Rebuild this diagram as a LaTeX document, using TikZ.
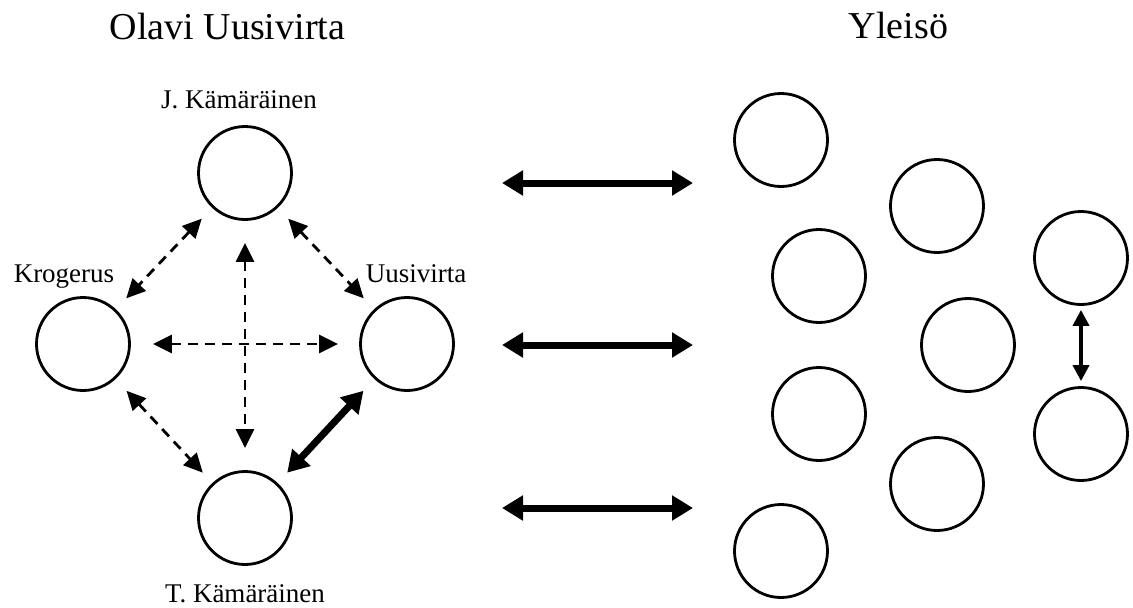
\documentclass[tikz,border=0pt]{standalone}
\usepackage{fontspec}
\setmainfont{Liberation Serif}
\usetikzlibrary{arrows.meta}
\begin{document}
\begin{tikzpicture}[x=1pt,y=-1pt,
  person/.style={circle,draw,line width=2.8pt,minimum size=93pt,inner sep=0pt},
  heading/.style={font=\fontsize{38}{44}\selectfont,anchor=base},
  label/.style={font=\fontsize{27}{32}\selectfont,anchor=base},
  dasharrow/.style={dash pattern=on 10pt off 7pt,line width=2.8pt,
    {Triangle[length=19pt,width=18pt]}-{Triangle[length=19pt,width=18pt]}},
  boldarrow/.style={line width=7pt,
    {Triangle[length=21pt,width=24pt]}-{Triangle[length=21pt,width=24pt]}},
  thinarrow/.style={line width=3.6pt,
    {Triangle[length=16pt,width=16pt]}-{Triangle[length=16pt,width=16pt]}}]
\useasboundingbox (0,0) rectangle (1133,608);

% headings
\node[heading] (tleft) at (227.5,39) {Olavi Uusivirta};
\node[heading] (tright) at (898.5,38) {Yleisö};

% band members
\node[person] (J) at (245,173) {};
\node[person] (K) at (83,344) {};
\node[person] (U) at (407,344) {};
\node[person] (T) at (245,518) {};

\node[label] (lJ) at (239,108) {J. Kämäräinen};
\node[label] (lK) at (64,282) {Krogerus};
\node[label] (lU) at (416,282) {Uusivirta};
\node[label] (lT) at (245,602) {T. Kämäräinen};

% links inside the band
\draw[dasharrow,shorten <=15pt,shorten >=15pt] (J) -- (K);
\draw[dasharrow,shorten <=15pt,shorten >=15pt] (J) -- (U);
\draw[dasharrow,shorten <=22pt,shorten >=22pt] (J) -- (T);
\draw[dasharrow,shorten <=22pt,shorten >=21pt] (K) -- (U);
\draw[dasharrow,shorten <=16pt,shorten >=14pt] (K) -- (T);
\draw[boldarrow,shorten <=16pt,shorten >=14pt] (U) -- (T);

% audience
\node[person] (R1) at (781,140) {};
\node[person] (R2) at (937,206) {};
\node[person] (R3) at (819,276) {};
\node[person] (R4) at (1081,258) {};
\node[person] (R5) at (968,345) {};
\node[person] (R6) at (819,414) {};
\node[person] (R7) at (1081,434) {};
\node[person] (R8) at (937,484) {};
\node[person] (R9) at (781,551) {};

\draw[thinarrow,shorten <=4pt,shorten >=5pt] (R4) -- (R7);

% band <-> audience
\coordinate (a1) at (502,183);
\coordinate (b1) at (693,183);
\coordinate (a2) at (502,345);
\coordinate (b2) at (693,345);
\coordinate (a3) at (502,508);
\coordinate (b3) at (693,508);
\draw[boldarrow] (a1) -- (b1);
\draw[boldarrow] (a2) -- (b2);
\draw[boldarrow] (a3) -- (b3);
\end{tikzpicture}
\end{document}
